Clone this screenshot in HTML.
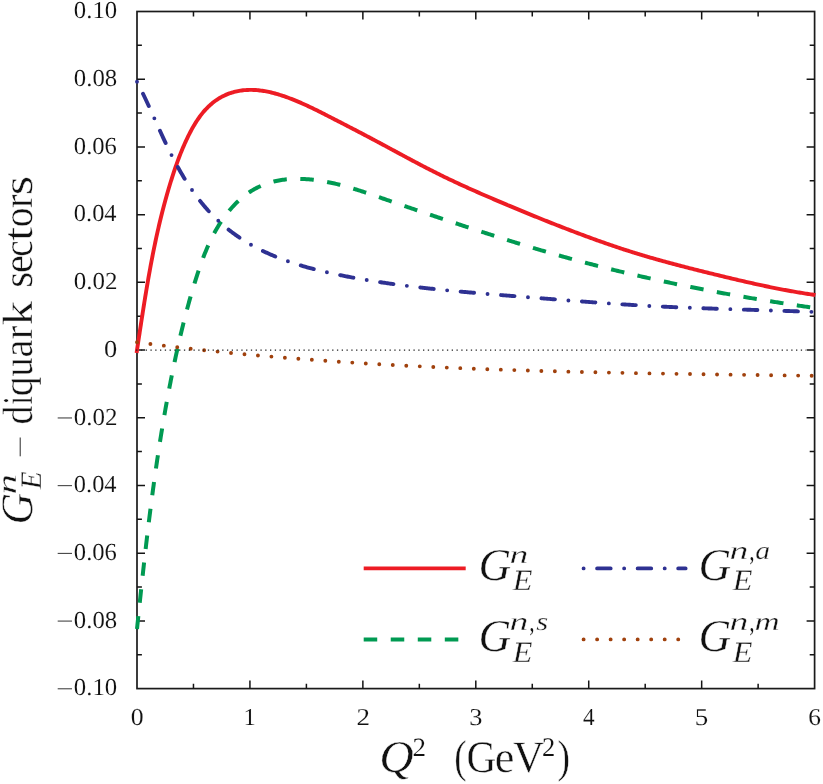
<!DOCTYPE html>
<html><head><meta charset="utf-8"><title>G_E^n diquark sectors</title>
<style>
html,body{margin:0;padding:0;background:#fff;}
svg{display:block;}
text{font-family:"Liberation Serif",serif;fill:#111;stroke:#fff;stroke-width:0.45px;text-rendering:geometricPrecision;}
text.sm{stroke-width:0.12px;}
text.sc{stroke-width:0.3px;}
</style></head>
<body>
<svg width="823" height="784" viewBox="0 0 823 784">
<rect width="823" height="784" fill="#fff"/>
<g id="axes">
<rect x="137.0" y="11.5" width="677.60" height="677.10" fill="none" stroke="#1a1a1a" stroke-width="1.7"/>
<path d="M137.0,45.36h4.9 M814.6,45.36h-4.9 M137.0,79.21h8.0 M814.6,79.21h-8.0 M137.0,113.07h4.9 M814.6,113.07h-4.9 M137.0,146.92h8.0 M814.6,146.92h-8.0 M137.0,180.78h4.9 M814.6,180.78h-4.9 M137.0,214.63h8.0 M814.6,214.63h-8.0 M137.0,248.48h4.9 M814.6,248.48h-4.9 M137.0,282.34h8.0 M814.6,282.34h-8.0 M137.0,316.20h4.9 M814.6,316.20h-4.9 M137.0,350.05h8.0 M814.6,350.05h-8.0 M137.0,383.91h4.9 M814.6,383.91h-4.9 M137.0,417.76h8.0 M814.6,417.76h-8.0 M137.0,451.62h4.9 M814.6,451.62h-4.9 M137.0,485.47h8.0 M814.6,485.47h-8.0 M137.0,519.33h4.9 M814.6,519.33h-4.9 M137.0,553.18h8.0 M814.6,553.18h-8.0 M137.0,587.04h4.9 M814.6,587.04h-4.9 M137.0,620.89h8.0 M814.6,620.89h-8.0 M137.0,654.75h4.9 M814.6,654.75h-4.9 M193.47,11.5v4.9 M193.47,688.6v-4.9 M249.93,11.5v8.0 M249.93,688.6v-8.0 M306.40,11.5v4.9 M306.40,688.6v-4.9 M362.87,11.5v8.0 M362.87,688.6v-8.0 M419.33,11.5v4.9 M419.33,688.6v-4.9 M475.80,11.5v8.0 M475.80,688.6v-8.0 M532.27,11.5v4.9 M532.27,688.6v-4.9 M588.73,11.5v8.0 M588.73,688.6v-8.0 M645.20,11.5v4.9 M645.20,688.6v-4.9 M701.67,11.5v8.0 M701.67,688.6v-8.0 M758.13,11.5v4.9 M758.13,688.6v-4.9" fill="none" stroke="#141414" stroke-width="1.5"/>
</g>
<g id="curves">
<path d="M136.62,353.00 L137.00,350.00 L137.20,348.72 L137.39,347.44 L137.59,346.16 L137.78,344.88 L137.98,343.59 L138.17,342.31 L138.36,341.03 L138.56,339.75 L138.75,338.47 L138.95,337.18 L139.14,335.90 L139.34,334.62 L139.54,333.34 L139.73,332.05 L139.93,330.77 L140.12,329.49 L140.32,328.21 L140.51,326.92 L140.71,325.64 L140.91,324.36 L141.11,323.07 L141.30,321.79 L141.50,320.51 L141.70,319.22 L141.90,317.94 L142.10,316.66 L142.30,315.37 L142.50,314.09 L142.70,312.81 L142.90,311.52 L143.10,310.24 L143.30,308.96 L143.51,307.68 L143.71,306.39 L143.91,305.11 L144.12,303.83 L144.32,302.55 L144.53,301.26 L144.74,299.98 L144.95,298.70 L145.15,297.42 L145.36,296.13 L145.57,294.85 L145.79,293.57 L146.00,292.29 L146.21,291.01 L146.43,289.73 L146.64,288.44 L146.86,287.16 L147.07,285.88 L147.29,284.60 L147.51,283.32 L147.73,282.04 L147.95,280.76 L148.17,279.48 L148.40,278.20 L148.62,276.92 L148.85,275.65 L149.08,274.37 L149.30,273.09 L149.53,271.81 L149.77,270.53 L150.00,269.26 L150.23,267.98 L150.47,266.70 L150.70,265.43 L150.94,264.15 L151.18,262.87 L151.42,261.60 L151.66,260.32 L151.91,259.05 L152.15,257.77 L152.40,256.50 L152.65,255.23 L152.90,253.95 L153.15,252.68 L153.40,251.41 L153.66,250.13 L153.92,248.86 L154.17,247.59 L154.43,246.32 L154.70,245.05 L154.96,243.78 L155.23,242.51 L155.49,241.24 L155.76,239.97 L156.03,238.71 L156.31,237.44 L156.58,236.17 L156.86,234.91 L157.14,233.64 L157.42,232.37 L157.70,231.11 L157.99,229.84 L158.28,228.58 L158.56,227.32 L158.86,226.06 L159.15,224.79 L159.45,223.53 L159.74,222.27 L160.04,221.01 L160.35,219.75 L160.65,218.49 L160.96,217.23 L161.27,215.97 L161.58,214.72 L161.89,213.46 L162.21,212.21 L162.53,210.95 L162.85,209.70 L163.18,208.44 L163.50,207.19 L163.83,205.94 L164.16,204.68 L164.50,203.43 L164.83,202.18 L165.17,200.93 L165.51,199.68 L165.86,198.44 L166.21,197.19 L166.56,195.94 L166.91,194.70 L167.26,193.45 L167.62,192.21 L167.98,190.96 L168.35,189.72 L168.71,188.48 L169.08,187.24 L169.46,186.00 L169.83,184.76 L170.21,183.52 L170.59,182.28 L170.97,181.04 L171.36,179.81 L171.75,178.57 L172.14,177.34 L172.54,176.10 L172.94,174.87 L173.34,173.64 L173.75,172.41 L174.16,171.18 L174.57,169.95 L174.99,168.72 L175.41,167.49 L175.84,166.27 L176.26,165.05 L176.70,163.82 L177.14,162.60 L177.58,161.38 L178.03,160.16 L178.48,158.95 L178.94,157.73 L179.40,156.52 L179.87,155.31 L180.34,154.10 L180.82,152.89 L181.31,151.68 L181.80,150.48 L182.30,149.27 L182.80,148.07 L183.31,146.88 L183.83,145.68 L184.35,144.48 L184.88,143.29 L185.42,142.10 L185.97,140.92 L186.52,139.73 L187.08,138.55 L187.65,137.37 L188.22,136.19 L188.80,135.01 L189.40,133.84 L190.00,132.67 L190.61,131.51 L191.22,130.35 L191.85,129.19 L192.49,128.04 L193.14,126.90 L193.80,125.76 L194.47,124.64 L195.15,123.51 L195.84,122.40 L196.55,121.30 L197.27,120.21 L198.00,119.12 L198.75,118.05 L199.51,116.99 L200.28,115.94 L201.07,114.90 L201.87,113.88 L202.69,112.87 L203.52,111.87 L204.37,110.89 L205.24,109.93 L206.12,108.98 L207.01,108.05 L207.93,107.13 L208.85,106.23 L209.80,105.35 L210.75,104.50 L211.73,103.66 L212.72,102.84 L213.72,102.04 L214.74,101.27 L215.78,100.52 L216.83,99.79 L217.90,99.09 L218.98,98.41 L220.07,97.75 L221.18,97.12 L222.31,96.52 L223.44,95.94 L224.59,95.39 L225.76,94.86 L226.93,94.36 L228.11,93.89 L229.31,93.45 L230.52,93.03 L231.73,92.64 L232.96,92.27 L234.19,91.94 L235.43,91.63 L236.68,91.34 L237.93,91.08 L239.20,90.85 L240.46,90.64 L241.73,90.46 L243.01,90.31 L244.29,90.17 L245.57,90.07 L246.85,89.99 L248.14,89.93 L249.42,89.90 L250.71,89.89 L252.00,89.90 L253.29,89.94 L254.58,89.99 L255.87,90.07 L257.16,90.17 L258.45,90.30 L259.73,90.44 L261.02,90.60 L262.31,90.78 L263.60,90.98 L264.88,91.19 L266.17,91.43 L267.45,91.68 L268.74,91.94 L270.02,92.22 L271.29,92.52 L272.57,92.83 L273.85,93.16 L275.12,93.50 L276.39,93.85 L277.65,94.22 L278.92,94.60 L280.18,94.99 L281.44,95.39 L282.69,95.80 L283.94,96.22 L285.19,96.65 L286.43,97.09 L287.67,97.54 L288.90,97.99 L290.13,98.46 L291.35,98.93 L292.57,99.40 L293.79,99.89 L295.00,100.38 L296.21,100.87 L297.41,101.37 L298.61,101.88 L299.81,102.39 L301.00,102.91 L302.19,103.43 L303.37,103.96 L304.55,104.49 L305.73,105.03 L306.91,105.57 L308.08,106.12 L309.25,106.67 L310.42,107.22 L311.59,107.78 L312.75,108.34 L313.91,108.90 L315.07,109.47 L316.23,110.04 L317.39,110.61 L318.54,111.19 L319.69,111.77 L320.85,112.35 L322.00,112.93 L323.15,113.51 L324.30,114.09 L325.45,114.68 L326.60,115.27 L327.75,115.86 L328.90,116.44 L330.05,117.03 L331.19,117.62 L332.34,118.21 L333.49,118.80 L334.64,119.40 L335.79,119.99 L336.94,120.58 L338.09,121.17 L339.24,121.76 L340.39,122.35 L341.55,122.95 L342.70,123.54 L343.85,124.13 L345.00,124.73 L346.15,125.32 L347.30,125.92 L348.45,126.51 L349.60,127.11 L350.75,127.71 L351.90,128.30 L353.05,128.90 L354.21,129.50 L355.36,130.10 L356.51,130.70 L357.66,131.30 L358.81,131.90 L359.96,132.50 L361.11,133.10 L362.26,133.70 L363.41,134.31 L364.56,134.91 L365.70,135.52 L366.85,136.12 L368.00,136.73 L369.15,137.33 L370.30,137.94 L371.44,138.55 L372.59,139.16 L373.74,139.77 L374.88,140.38 L376.03,140.99 L377.17,141.61 L378.32,142.22 L379.46,142.83 L380.61,143.45 L381.75,144.06 L382.90,144.68 L384.04,145.29 L385.18,145.91 L386.33,146.52 L387.47,147.14 L388.61,147.76 L389.76,148.37 L390.90,148.99 L392.04,149.61 L393.19,150.23 L394.33,150.84 L395.47,151.46 L396.62,152.08 L397.76,152.69 L398.90,153.31 L400.05,153.92 L401.19,154.54 L402.33,155.15 L403.48,155.77 L404.62,156.38 L405.77,157.00 L406.91,157.61 L408.06,158.22 L409.20,158.83 L410.35,159.45 L411.50,160.06 L412.64,160.67 L413.79,161.27 L414.94,161.88 L416.08,162.49 L417.23,163.09 L418.38,163.70 L419.53,164.30 L420.68,164.90 L421.83,165.51 L422.98,166.11 L424.13,166.70 L425.29,167.30 L426.44,167.90 L427.59,168.49 L428.75,169.08 L429.90,169.67 L431.06,170.26 L432.21,170.85 L433.37,171.44 L434.53,172.02 L435.69,172.61 L436.85,173.19 L438.01,173.77 L439.17,174.34 L440.33,174.92 L441.50,175.49 L442.66,176.06 L443.83,176.63 L444.99,177.20 L446.16,177.76 L447.33,178.33 L448.50,178.89 L449.67,179.45 L450.84,180.00 L452.01,180.56 L453.18,181.11 L454.36,181.66 L455.53,182.22 L456.71,182.76 L457.88,183.31 L459.06,183.86 L460.24,184.40 L461.41,184.94 L462.59,185.48 L463.77,186.02 L464.95,186.56 L466.13,187.10 L467.32,187.63 L468.50,188.16 L469.68,188.70 L470.86,189.23 L472.05,189.76 L473.23,190.28 L474.42,190.81 L475.60,191.34 L476.79,191.86 L477.98,192.38 L479.17,192.90 L480.35,193.43 L481.54,193.95 L482.73,194.46 L483.92,194.98 L485.11,195.50 L486.30,196.01 L487.49,196.53 L488.68,197.04 L489.88,197.56 L491.07,198.07 L492.26,198.58 L493.45,199.09 L494.65,199.60 L495.84,200.11 L497.03,200.62 L498.23,201.13 L499.42,201.63 L500.62,202.14 L501.81,202.65 L503.01,203.15 L504.20,203.66 L505.40,204.16 L506.59,204.66 L507.79,205.17 L508.99,205.67 L510.18,206.17 L511.38,206.67 L512.58,207.17 L513.78,207.67 L514.97,208.17 L516.17,208.67 L517.37,209.17 L518.57,209.67 L519.77,210.17 L520.97,210.66 L522.17,211.16 L523.37,211.65 L524.57,212.15 L525.77,212.64 L526.97,213.13 L528.17,213.63 L529.37,214.12 L530.57,214.61 L531.78,215.10 L532.98,215.59 L534.18,216.08 L535.38,216.57 L536.59,217.05 L537.79,217.54 L538.99,218.02 L540.20,218.51 L541.40,218.99 L542.61,219.48 L543.81,219.96 L545.02,220.44 L546.22,220.92 L547.43,221.40 L548.63,221.88 L549.84,222.36 L551.05,222.84 L552.25,223.32 L553.46,223.79 L554.67,224.27 L555.88,224.74 L557.08,225.22 L558.29,225.69 L559.50,226.16 L560.71,226.63 L561.92,227.10 L563.13,227.57 L564.34,228.04 L565.55,228.51 L566.76,228.97 L567.97,229.44 L569.19,229.90 L570.40,230.37 L571.61,230.83 L572.82,231.29 L574.04,231.75 L575.25,232.21 L576.46,232.67 L577.68,233.13 L578.89,233.59 L580.11,234.04 L581.32,234.50 L582.54,234.95 L583.75,235.40 L584.97,235.85 L586.19,236.30 L587.41,236.75 L588.62,237.20 L589.84,237.65 L591.06,238.09 L592.28,238.53 L593.50,238.98 L594.72,239.42 L595.94,239.86 L597.16,240.30 L598.38,240.73 L599.60,241.17 L600.83,241.60 L602.05,242.03 L603.27,242.46 L604.50,242.89 L605.72,243.32 L606.95,243.75 L608.17,244.17 L609.40,244.59 L610.63,245.01 L611.85,245.43 L613.08,245.85 L614.31,246.27 L615.54,246.68 L616.77,247.09 L618.00,247.51 L619.23,247.91 L620.46,248.32 L621.69,248.73 L622.92,249.13 L624.16,249.53 L625.39,249.93 L626.63,250.33 L627.86,250.72 L629.10,251.12 L630.33,251.51 L631.57,251.90 L632.81,252.29 L634.05,252.67 L635.29,253.06 L636.53,253.44 L637.77,253.82 L639.01,254.20 L640.25,254.57 L641.49,254.95 L642.73,255.32 L643.98,255.69 L645.22,256.06 L646.46,256.43 L647.71,256.79 L648.95,257.15 L650.20,257.52 L651.45,257.88 L652.69,258.23 L653.94,258.59 L655.19,258.95 L656.44,259.30 L657.69,259.65 L658.94,260.00 L660.19,260.35 L661.44,260.70 L662.69,261.04 L663.94,261.39 L665.19,261.73 L666.44,262.07 L667.70,262.42 L668.95,262.75 L670.20,263.09 L671.46,263.43 L672.71,263.76 L673.97,264.10 L675.22,264.43 L676.48,264.76 L677.73,265.09 L678.99,265.42 L680.24,265.75 L681.50,266.08 L682.76,266.40 L684.01,266.73 L685.27,267.05 L686.53,267.38 L687.79,267.70 L689.04,268.02 L690.30,268.34 L691.56,268.66 L692.82,268.98 L694.08,269.30 L695.34,269.61 L696.60,269.93 L697.86,270.24 L699.12,270.56 L700.38,270.87 L701.64,271.19 L702.90,271.50 L704.16,271.81 L705.42,272.12 L706.68,272.43 L707.94,272.74 L709.20,273.05 L710.46,273.36 L711.72,273.67 L712.98,273.98 L714.24,274.28 L715.50,274.59 L716.77,274.90 L718.03,275.21 L719.29,275.51 L720.55,275.82 L721.81,276.12 L723.07,276.43 L724.33,276.73 L725.60,277.03 L726.86,277.34 L728.12,277.64 L729.38,277.94 L730.64,278.24 L731.91,278.54 L733.17,278.84 L734.43,279.14 L735.69,279.44 L736.96,279.73 L738.22,280.03 L739.48,280.32 L740.75,280.62 L742.01,280.91 L743.27,281.20 L744.54,281.49 L745.80,281.78 L747.06,282.07 L748.33,282.36 L749.59,282.65 L750.86,282.93 L752.12,283.21 L753.39,283.50 L754.66,283.78 L755.92,284.06 L757.19,284.34 L758.46,284.61 L759.72,284.89 L760.99,285.16 L762.26,285.44 L763.53,285.71 L764.79,285.98 L766.06,286.24 L767.33,286.51 L768.60,286.77 L769.87,287.04 L771.14,287.30 L772.41,287.56 L773.68,287.81 L774.95,288.07 L776.22,288.32 L777.50,288.58 L778.77,288.83 L780.04,289.07 L781.31,289.32 L782.59,289.56 L783.86,289.80 L785.14,290.04 L786.41,290.28 L787.69,290.52 L788.96,290.75 L790.24,290.98 L791.52,291.21 L792.80,291.44 L794.07,291.66 L795.35,291.88 L796.63,292.10 L797.91,292.32 L799.19,292.53 L800.47,292.74 L801.75,292.95 L803.04,293.16 L804.32,293.36 L805.60,293.57 L806.88,293.76 L808.17,293.96 L809.45,294.15 L810.74,294.34 L812.03,294.53 L813.31,294.72 L814.60,294.90 L815.40,295.10" fill="none" stroke="#ed1c24" stroke-width="3.9" stroke-linejoin="round"/>
<path d="M137.00,629.00 L137.13,627.70 L137.27,626.41 L137.40,625.11 L137.54,623.81 L137.67,622.51 L137.81,621.22 L137.94,619.92 L138.08,618.62 L138.21,617.32 L138.35,616.03 L138.48,614.73 L138.62,613.43 L138.75,612.13 L138.89,610.83 L139.03,609.54 L139.16,608.24 L139.30,606.94 L139.44,605.64 L139.57,604.34 L139.71,603.05 L139.85,601.75 L139.98,600.45 L140.12,599.15 L140.26,597.85 L140.40,596.55 L140.54,595.25 L140.67,593.96 L140.81,592.66 L140.95,591.36 L141.09,590.06 L141.23,588.76 L141.37,587.46 L141.51,586.16 L141.65,584.86 L141.79,583.56 L141.93,582.27 L142.07,580.97 L142.21,579.67 L142.35,578.37 L142.49,577.07 L142.64,575.77 L142.78,574.47 L142.92,573.17 L143.06,571.87 L143.21,570.57 L143.35,569.27 L143.50,567.98 L143.64,566.68 L143.78,565.38 L143.93,564.08 L144.07,562.78 L144.22,561.48 L144.37,560.18 L144.51,558.88 L144.66,557.58 L144.81,556.28 L144.95,554.98 L145.10,553.68 L145.25,552.39 L145.40,551.09 L145.55,549.79 L145.70,548.49 L145.85,547.19 L146.00,545.89 L146.15,544.59 L146.30,543.29 L146.45,541.99 L146.60,540.69 L146.76,539.40 L146.91,538.10 L147.06,536.80 L147.22,535.50 L147.37,534.20 L147.53,532.90 L147.68,531.60 L147.84,530.30 L147.99,529.01 L148.15,527.71 L148.31,526.41 L148.47,525.11 L148.63,523.81 L148.78,522.51 L148.94,521.22 L149.10,519.92 L149.26,518.62 L149.43,517.32 L149.59,516.02 L149.75,514.73 L149.91,513.43 L150.08,512.13 L150.24,510.83 L150.41,509.53 L150.57,508.24 L150.74,506.94 L150.90,505.64 L151.07,504.34 L151.24,503.05 L151.41,501.75 L151.57,500.45 L151.74,499.16 L151.91,497.86 L152.09,496.56 L152.26,495.27 L152.43,493.97 L152.60,492.67 L152.78,491.38 L152.95,490.08 L153.12,488.78 L153.30,487.49 L153.48,486.19 L153.65,484.90 L153.83,483.60 L154.01,482.30 L154.19,481.01 L154.37,479.71 L154.55,478.42 L154.73,477.12 L154.91,475.83 L155.09,474.53 L155.28,473.24 L155.46,471.94 L155.65,470.65 L155.83,469.36 L156.02,468.06 L156.20,466.77 L156.39,465.47 L156.58,464.18 L156.77,462.89 L156.96,461.59 L157.15,460.30 L157.34,459.01 L157.54,457.71 L157.73,456.42 L157.93,455.13 L158.12,453.83 L158.32,452.54 L158.51,451.25 L158.71,449.96 L158.91,448.66 L159.11,447.37 L159.31,446.08 L159.51,444.79 L159.71,443.50 L159.92,442.21 L160.12,440.92 L160.32,439.63 L160.53,438.33 L160.74,437.04 L160.94,435.75 L161.15,434.46 L161.36,433.17 L161.57,431.88 L161.78,430.59 L162.00,429.30 L162.21,428.02 L162.42,426.73 L162.64,425.44 L162.85,424.15 L163.07,422.86 L163.29,421.57 L163.51,420.28 L163.73,419.00 L163.95,417.71 L164.17,416.42 L164.39,415.13 L164.62,413.85 L164.84,412.56 L165.07,411.27 L165.29,409.99 L165.52,408.70 L165.75,407.42 L165.98,406.13 L166.21,404.84 L166.44,403.56 L166.68,402.27 L166.91,400.99 L167.14,399.70 L167.38,398.42 L167.62,397.14 L167.86,395.85 L168.10,394.57 L168.34,393.29 L168.58,392.00 L168.82,390.72 L169.07,389.44 L169.31,388.15 L169.56,386.87 L169.80,385.59 L170.05,384.31 L170.30,383.03 L170.55,381.75 L170.80,380.46 L171.06,379.18 L171.31,377.90 L171.57,376.62 L171.82,375.34 L172.08,374.06 L172.34,372.78 L172.60,371.51 L172.86,370.23 L173.12,368.95 L173.39,367.67 L173.65,366.39 L173.92,365.11 L174.19,363.84 L174.46,362.56 L174.73,361.28 L175.00,360.01 L175.27,358.73 L175.54,357.45 L175.82,356.18 L176.09,354.90 L176.37,353.63 L176.65,352.35 L176.93,351.08 L177.21,349.81 L177.49,348.53 L177.78,347.26 L178.06,345.98 L178.35,344.71 L178.64,343.44 L178.93,342.17 L179.22,340.90 L179.51,339.62 L179.81,338.35 L180.10,337.08 L180.40,335.81 L180.70,334.54 L181.00,333.27 L181.31,332.00 L181.61,330.73 L181.92,329.46 L182.22,328.20 L182.53,326.93 L182.85,325.66 L183.16,324.39 L183.47,323.13 L183.79,321.86 L184.11,320.60 L184.43,319.33 L184.75,318.06 L185.08,316.80 L185.40,315.54 L185.73,314.27 L186.06,313.01 L186.40,311.75 L186.73,310.48 L187.07,309.22 L187.41,307.96 L187.75,306.70 L188.09,305.44 L188.44,304.18 L188.79,302.92 L189.14,301.66 L189.49,300.40 L189.84,299.14 L190.20,297.89 L190.56,296.63 L190.92,295.37 L191.28,294.12 L191.65,292.86 L192.02,291.61 L192.39,290.35 L192.76,289.10 L193.14,287.84 L193.52,286.59 L193.90,285.34 L194.28,284.09 L194.67,282.83 L195.06,281.58 L195.45,280.33 L195.85,279.08 L196.24,277.83 L196.64,276.59 L197.05,275.34 L197.45,274.09 L197.86,272.84 L198.27,271.60 L198.69,270.35 L199.11,269.11 L199.53,267.87 L199.96,266.63 L200.39,265.39 L200.83,264.15 L201.27,262.91 L201.71,261.68 L202.16,260.45 L202.62,259.22 L203.08,257.99 L203.55,256.76 L204.02,255.54 L204.50,254.32 L204.99,253.10 L205.48,251.88 L205.98,250.67 L206.48,249.46 L206.99,248.25 L207.51,247.05 L208.04,245.85 L208.57,244.65 L209.12,243.46 L209.67,242.27 L210.23,241.08 L210.79,239.90 L211.37,238.72 L211.95,237.54 L212.55,236.37 L213.15,235.21 L213.76,234.04 L214.38,232.88 L215.01,231.73 L215.65,230.58 L216.30,229.44 L216.96,228.30 L217.64,227.16 L218.32,226.04 L219.01,224.91 L219.72,223.79 L220.43,222.68 L221.16,221.58 L221.89,220.48 L222.64,219.39 L223.40,218.30 L224.16,217.23 L224.94,216.16 L225.73,215.10 L226.53,214.05 L227.35,213.01 L228.17,211.98 L229.00,210.96 L229.85,209.95 L230.70,208.95 L231.57,207.96 L232.44,206.98 L233.33,206.02 L234.23,205.06 L235.14,204.12 L236.06,203.19 L236.99,202.28 L237.94,201.38 L238.89,200.49 L239.85,199.62 L240.83,198.76 L241.82,197.91 L242.81,197.08 L243.82,196.27 L244.84,195.48 L245.87,194.70 L246.91,193.93 L247.97,193.19 L249.03,192.46 L250.11,191.75 L251.19,191.05 L252.29,190.38 L253.40,189.72 L254.52,189.09 L255.65,188.47 L256.79,187.87 L257.94,187.29 L259.10,186.74 L260.28,186.20 L261.46,185.68 L262.65,185.18 L263.85,184.70 L265.06,184.24 L266.28,183.80 L267.50,183.38 L268.73,182.98 L269.97,182.59 L271.22,182.23 L272.47,181.89 L273.73,181.56 L274.99,181.26 L276.27,180.97 L277.54,180.70 L278.82,180.45 L280.11,180.22 L281.39,180.01 L282.69,179.82 L283.98,179.65 L285.28,179.49 L286.58,179.36 L287.89,179.24 L289.20,179.13 L290.51,179.05 L291.82,178.97 L293.13,178.92 L294.44,178.88 L295.76,178.85 L297.08,178.84 L298.39,178.85 L299.71,178.86 L301.02,178.90 L302.34,178.94 L303.65,179.00 L304.96,179.07 L306.28,179.15 L307.58,179.24 L308.89,179.35 L310.20,179.46 L311.50,179.59 L312.80,179.73 L314.11,179.88 L315.40,180.04 L316.70,180.21 L318.00,180.39 L319.29,180.58 L320.58,180.78 L321.87,180.99 L323.16,181.20 L324.45,181.43 L325.73,181.67 L327.01,181.91 L328.30,182.17 L329.58,182.43 L330.86,182.70 L332.13,182.97 L333.41,183.26 L334.69,183.55 L335.96,183.85 L337.23,184.16 L338.50,184.47 L339.77,184.80 L341.04,185.12 L342.31,185.46 L343.57,185.80 L344.84,186.14 L346.10,186.50 L347.36,186.85 L348.62,187.22 L349.88,187.58 L351.14,187.96 L352.40,188.33 L353.65,188.72 L354.91,189.10 L356.16,189.49 L357.42,189.89 L358.67,190.29 L359.92,190.69 L361.17,191.10 L362.42,191.50 L363.67,191.92 L364.92,192.33 L366.17,192.75 L367.42,193.17 L368.66,193.59 L369.91,194.01 L371.15,194.44 L372.40,194.87 L373.64,195.30 L374.88,195.73 L376.12,196.16 L377.37,196.59 L378.61,197.02 L379.85,197.45 L381.09,197.89 L382.33,198.32 L383.57,198.75 L384.80,199.19 L386.04,199.62 L387.28,200.05 L388.52,200.48 L389.75,200.91 L390.99,201.34 L392.23,201.77 L393.46,202.20 L394.70,202.63 L395.94,203.05 L397.17,203.48 L398.41,203.91 L399.64,204.33 L400.88,204.76 L402.11,205.18 L403.35,205.61 L404.58,206.03 L405.81,206.45 L407.05,206.88 L408.28,207.30 L409.51,207.72 L410.75,208.14 L411.98,208.56 L413.22,208.98 L414.45,209.40 L415.68,209.82 L416.91,210.24 L418.15,210.66 L419.38,211.08 L420.61,211.50 L421.85,211.91 L423.08,212.33 L424.31,212.75 L425.55,213.16 L426.78,213.58 L428.01,214.00 L429.25,214.41 L430.48,214.83 L431.72,215.24 L432.95,215.66 L434.19,216.08 L435.42,216.49 L436.65,216.91 L437.89,217.32 L439.12,217.73 L440.36,218.15 L441.60,218.56 L442.83,218.98 L444.07,219.39 L445.30,219.80 L446.54,220.22 L447.78,220.63 L449.01,221.04 L450.25,221.46 L451.49,221.87 L452.73,222.28 L453.96,222.69 L455.20,223.10 L456.44,223.51 L457.68,223.93 L458.92,224.34 L460.15,224.75 L461.39,225.16 L462.63,225.57 L463.87,225.98 L465.11,226.38 L466.35,226.79 L467.59,227.20 L468.83,227.61 L470.07,228.02 L471.31,228.42 L472.56,228.83 L473.80,229.24 L475.04,229.64 L476.28,230.05 L477.52,230.45 L478.76,230.86 L480.01,231.26 L481.25,231.66 L482.49,232.07 L483.74,232.47 L484.98,232.87 L486.22,233.27 L487.47,233.67 L488.71,234.07 L489.96,234.47 L491.20,234.87 L492.45,235.27 L493.69,235.67 L494.94,236.07 L496.18,236.47 L497.43,236.86 L498.67,237.26 L499.92,237.65 L501.17,238.05 L502.41,238.44 L503.66,238.84 L504.91,239.23 L506.15,239.62 L507.40,240.01 L508.65,240.40 L509.90,240.79 L511.15,241.18 L512.39,241.57 L513.64,241.96 L514.89,242.35 L516.14,242.73 L517.39,243.12 L518.64,243.51 L519.89,243.89 L521.14,244.27 L522.39,244.66 L523.64,245.04 L524.89,245.42 L526.15,245.80 L527.40,246.18 L528.65,246.56 L529.90,246.94 L531.15,247.32 L532.41,247.69 L533.66,248.07 L534.91,248.44 L536.17,248.82 L537.42,249.19 L538.67,249.56 L539.93,249.94 L541.18,250.31 L542.44,250.68 L543.69,251.04 L544.95,251.41 L546.20,251.78 L547.46,252.15 L548.71,252.51 L549.97,252.87 L551.23,253.24 L552.48,253.60 L553.74,253.96 L555.00,254.32 L556.25,254.68 L557.51,255.04 L558.77,255.40 L560.03,255.75 L561.29,256.11 L562.55,256.46 L563.80,256.81 L565.06,257.17 L566.32,257.52 L567.58,257.87 L568.84,258.22 L570.10,258.56 L571.36,258.91 L572.63,259.26 L573.89,259.60 L575.15,259.94 L576.41,260.29 L577.67,260.63 L578.93,260.97 L580.20,261.31 L581.46,261.65 L582.72,261.98 L583.98,262.32 L585.25,262.65 L586.51,262.99 L587.78,263.32 L589.04,263.65 L590.30,263.98 L591.57,264.31 L592.83,264.64 L594.10,264.97 L595.36,265.30 L596.63,265.62 L597.90,265.95 L599.16,266.27 L600.43,266.60 L601.70,266.92 L602.96,267.24 L604.23,267.56 L605.50,267.88 L606.76,268.19 L608.03,268.51 L609.30,268.83 L610.57,269.14 L611.84,269.46 L613.11,269.77 L614.37,270.08 L615.64,270.39 L616.91,270.70 L618.18,271.01 L619.45,271.32 L620.72,271.62 L621.99,271.93 L623.26,272.24 L624.53,272.54 L625.81,272.84 L627.08,273.14 L628.35,273.45 L629.62,273.75 L630.89,274.04 L632.16,274.34 L633.44,274.64 L634.71,274.94 L635.98,275.23 L637.25,275.53 L638.53,275.82 L639.80,276.11 L641.07,276.40 L642.35,276.69 L643.62,276.98 L644.90,277.27 L646.17,277.56 L647.45,277.85 L648.72,278.13 L650.00,278.42 L651.27,278.70 L652.55,278.98 L653.82,279.27 L655.10,279.55 L656.37,279.83 L657.65,280.11 L658.93,280.39 L660.20,280.66 L661.48,280.94 L662.76,281.21 L664.04,281.49 L665.31,281.76 L666.59,282.04 L667.87,282.31 L669.15,282.58 L670.43,282.85 L671.70,283.12 L672.98,283.39 L674.26,283.66 L675.54,283.92 L676.82,284.19 L678.10,284.45 L679.38,284.72 L680.66,284.98 L681.94,285.24 L683.22,285.50 L684.50,285.76 L685.78,286.02 L687.06,286.28 L688.34,286.54 L689.62,286.80 L690.90,287.05 L692.18,287.31 L693.47,287.56 L694.75,287.82 L696.03,288.07 L697.31,288.32 L698.59,288.57 L699.88,288.82 L701.16,289.07 L702.44,289.32 L703.73,289.57 L705.01,289.81 L706.29,290.06 L707.58,290.30 L708.86,290.55 L710.14,290.79 L711.43,291.03 L712.71,291.27 L713.99,291.52 L715.28,291.76 L716.56,291.99 L717.85,292.23 L719.13,292.47 L720.42,292.71 L721.70,292.94 L722.99,293.18 L724.28,293.41 L725.56,293.65 L726.85,293.88 L728.13,294.11 L729.42,294.34 L730.71,294.57 L731.99,294.80 L733.28,295.03 L734.57,295.26 L735.85,295.48 L737.14,295.71 L738.43,295.93 L739.71,296.16 L741.00,296.38 L742.29,296.61 L743.58,296.83 L744.86,297.05 L746.15,297.27 L747.44,297.49 L748.73,297.71 L750.02,297.93 L751.31,298.15 L752.60,298.36 L753.88,298.58 L755.17,298.79 L756.46,299.01 L757.75,299.22 L759.04,299.43 L760.33,299.65 L761.62,299.86 L762.91,300.07 L764.20,300.28 L765.49,300.49 L766.78,300.70 L768.07,300.90 L769.36,301.11 L770.65,301.32 L771.94,301.52 L773.23,301.73 L774.52,301.93 L775.82,302.13 L777.11,302.34 L778.40,302.54 L779.69,302.74 L780.98,302.94 L782.27,303.14 L783.56,303.34 L784.86,303.54 L786.15,303.73 L787.44,303.93 L788.73,304.13 L790.03,304.32 L791.32,304.52 L792.61,304.71 L793.90,304.90 L795.20,305.10 L796.49,305.29 L797.78,305.48 L799.07,305.67 L800.37,305.86 L801.66,306.05 L802.95,306.24 L804.25,306.42 L805.54,306.61 L806.84,306.80 L808.13,306.98 L809.42,307.17 L810.72,307.35 L812.01,307.54 L813.31,307.72 L814.60,307.90" fill="none" stroke="#009a52" stroke-width="4" stroke-dasharray="13.514000000000001 13.514000000000001" stroke-dashoffset="0.6" stroke-linejoin="round"/>
<path d="M137.00,81.70 L137.50,82.68 L138.01,83.65 L138.51,84.63 L139.00,85.61 L139.50,86.60 L139.99,87.58 L140.48,88.57 L140.97,89.55 L141.45,90.54 L141.94,91.53 L142.42,92.52 L142.90,93.52 L143.38,94.51 L143.85,95.51 L144.33,96.50 L144.80,97.50 L145.27,98.50 L145.74,99.50 L146.21,100.50 L146.68,101.50 L147.14,102.50 L147.61,103.51 L148.07,104.51 L148.53,105.51 L149.00,106.52 L149.46,107.53 L149.92,108.53 L150.38,109.54 L150.84,110.55 L151.29,111.56 L151.75,112.57 L152.21,113.58 L152.66,114.59 L153.12,115.60 L153.58,116.61 L154.03,117.62 L154.49,118.63 L154.94,119.64 L155.40,120.65 L155.85,121.66 L156.31,122.67 L156.76,123.69 L157.22,124.70 L157.68,125.71 L158.13,126.72 L158.59,127.73 L159.05,128.74 L159.51,129.75 L159.97,130.77 L160.43,131.78 L160.89,132.79 L161.35,133.80 L161.82,134.81 L162.28,135.81 L162.75,136.82 L163.21,137.83 L163.68,138.84 L164.15,139.84 L164.62,140.85 L165.09,141.85 L165.57,142.86 L166.04,143.86 L166.52,144.87 L167.00,145.87 L167.48,146.87 L167.96,147.87 L168.45,148.87 L168.93,149.86 L169.42,150.86 L169.91,151.86 L170.41,152.85 L170.90,153.84 L171.40,154.84 L171.90,155.83 L172.40,156.82 L172.91,157.80 L173.42,158.79 L173.93,159.78 L174.44,160.76 L174.96,161.74 L175.48,162.72 L176.00,163.70 L176.53,164.68 L177.06,165.65 L177.59,166.63 L178.13,167.60 L178.67,168.57 L179.21,169.53 L179.76,170.50 L180.31,171.46 L180.86,172.43 L181.42,173.39 L181.98,174.34 L182.55,175.30 L183.12,176.25 L183.69,177.20 L184.27,178.15 L184.85,179.10 L185.43,180.04 L186.02,180.98 L186.62,181.92 L187.21,182.86 L187.81,183.79 L188.42,184.72 L189.03,185.65 L189.64,186.57 L190.26,187.50 L190.88,188.41 L191.51,189.33 L192.14,190.24 L192.77,191.15 L193.41,192.06 L194.05,192.96 L194.70,193.86 L195.35,194.75 L196.01,195.65 L196.67,196.53 L197.34,197.42 L198.01,198.30 L198.68,199.18 L199.36,200.05 L200.04,200.92 L200.73,201.78 L201.43,202.65 L202.12,203.50 L202.83,204.36 L203.53,205.21 L204.24,206.05 L204.96,206.89 L205.68,207.73 L206.41,208.56 L207.14,209.38 L207.87,210.21 L208.62,211.02 L209.36,211.84 L210.11,212.65 L210.87,213.45 L211.63,214.25 L212.39,215.04 L213.16,215.83 L213.94,216.61 L214.72,217.39 L215.51,218.16 L216.30,218.93 L217.09,219.69 L217.89,220.45 L218.70,221.20 L219.51,221.95 L220.33,222.69 L221.15,223.42 L221.98,224.15 L222.81,224.88 L223.65,225.60 L224.49,226.31 L225.34,227.02 L226.19,227.72 L227.04,228.41 L227.91,229.10 L228.77,229.79 L229.64,230.47 L230.51,231.14 L231.39,231.81 L232.28,232.47 L233.16,233.13 L234.05,233.78 L234.95,234.43 L235.85,235.07 L236.75,235.71 L237.66,236.33 L238.57,236.96 L239.49,237.58 L240.40,238.19 L241.33,238.80 L242.25,239.40 L243.18,239.99 L244.11,240.58 L245.05,241.17 L245.99,241.74 L246.93,242.32 L247.88,242.88 L248.83,243.45 L249.78,244.00 L250.74,244.55 L251.70,245.10 L252.66,245.64 L253.62,246.17 L254.59,246.70 L255.56,247.22 L256.53,247.73 L257.51,248.25 L258.49,248.75 L259.47,249.25 L260.45,249.75 L261.44,250.24 L262.43,250.72 L263.42,251.20 L264.42,251.68 L265.41,252.15 L266.41,252.61 L267.41,253.07 L268.42,253.52 L269.42,253.97 L270.43,254.42 L271.45,254.86 L272.46,255.29 L273.48,255.72 L274.49,256.15 L275.51,256.57 L276.54,256.99 L277.56,257.40 L278.59,257.80 L279.62,258.21 L280.65,258.61 L281.68,259.00 L282.72,259.39 L283.75,259.78 L284.79,260.16 L285.83,260.53 L286.88,260.91 L287.92,261.28 L288.97,261.64 L290.01,262.00 L291.06,262.36 L292.11,262.71 L293.17,263.06 L294.22,263.41 L295.28,263.75 L296.33,264.08 L297.39,264.42 L298.45,264.75 L299.51,265.07 L300.58,265.40 L301.64,265.72 L302.71,266.03 L303.78,266.35 L304.84,266.65 L305.91,266.96 L306.98,267.26 L308.06,267.56 L309.13,267.86 L310.20,268.15 L311.28,268.44 L312.36,268.73 L313.43,269.01 L314.51,269.29 L315.59,269.57 L316.67,269.84 L317.75,270.11 L318.83,270.38 L319.92,270.65 L321.00,270.91 L322.08,271.17 L323.17,271.43 L324.25,271.69 L325.34,271.94 L326.43,272.19 L327.51,272.44 L328.60,272.68 L329.69,272.93 L330.78,273.17 L331.87,273.40 L332.96,273.64 L334.05,273.87 L335.14,274.11 L336.23,274.34 L337.32,274.56 L338.41,274.79 L339.50,275.01 L340.59,275.23 L341.68,275.45 L342.77,275.67 L343.87,275.89 L344.96,276.10 L346.05,276.31 L347.14,276.52 L348.23,276.73 L349.32,276.94 L350.41,277.15 L351.51,277.35 L352.60,277.55 L353.69,277.75 L354.78,277.95 L355.87,278.15 L356.96,278.35 L358.05,278.54 L359.15,278.74 L360.24,278.93 L361.33,279.12 L362.42,279.31 L363.51,279.49 L364.60,279.68 L365.69,279.86 L366.78,280.05 L367.87,280.23 L368.97,280.41 L370.06,280.59 L371.15,280.76 L372.24,280.94 L373.33,281.11 L374.42,281.28 L375.51,281.46 L376.60,281.63 L377.70,281.80 L378.79,281.96 L379.88,282.13 L380.97,282.29 L382.06,282.46 L383.15,282.62 L384.25,282.78 L385.34,282.94 L386.43,283.10 L387.52,283.26 L388.61,283.41 L389.71,283.57 L390.80,283.72 L391.89,283.88 L392.98,284.03 L394.08,284.18 L395.17,284.33 L396.26,284.47 L397.35,284.62 L398.45,284.77 L399.54,284.91 L400.63,285.06 L401.73,285.20 L402.82,285.34 L403.91,285.48 L405.01,285.62 L406.10,285.76 L407.19,285.90 L408.29,286.03 L409.38,286.17 L410.48,286.30 L411.57,286.44 L412.67,286.57 L413.76,286.70 L414.86,286.83 L415.95,286.96 L417.05,287.09 L418.14,287.22 L419.24,287.35 L420.34,287.47 L421.43,287.60 L422.53,287.72 L423.62,287.85 L424.72,287.97 L425.82,288.09 L426.92,288.22 L428.01,288.34 L429.11,288.46 L430.21,288.58 L431.31,288.69 L432.40,288.81 L433.50,288.93 L434.60,289.05 L435.70,289.16 L436.80,289.28 L437.90,289.39 L439.00,289.50 L440.10,289.62 L441.20,289.73 L442.30,289.84 L443.40,289.95 L444.50,290.06 L445.60,290.17 L446.70,290.28 L447.80,290.39 L448.90,290.50 L450.00,290.60 L451.10,290.71 L452.20,290.82 L453.31,290.92 L454.41,291.03 L455.51,291.13 L456.61,291.24 L457.71,291.34 L458.82,291.44 L459.92,291.55 L461.02,291.65 L462.12,291.75 L463.23,291.85 L464.33,291.95 L465.43,292.05 L466.53,292.15 L467.64,292.25 L468.74,292.35 L469.84,292.45 L470.95,292.54 L472.05,292.64 L473.16,292.74 L474.26,292.83 L475.36,292.93 L476.47,293.03 L477.57,293.12 L478.67,293.22 L479.78,293.31 L480.88,293.40 L481.99,293.50 L483.09,293.59 L484.20,293.69 L485.30,293.78 L486.41,293.87 L487.51,293.96 L488.61,294.06 L489.72,294.15 L490.82,294.24 L491.93,294.33 L493.03,294.42 L494.14,294.51 L495.24,294.60 L496.35,294.69 L497.45,294.78 L498.56,294.87 L499.66,294.96 L500.77,295.05 L501.87,295.14 L502.98,295.23 L504.08,295.32 L505.19,295.41 L506.29,295.50 L507.40,295.59 L508.50,295.68 L509.61,295.77 L510.71,295.85 L511.82,295.94 L512.92,296.03 L514.03,296.12 L515.13,296.21 L516.24,296.29 L517.34,296.38 L518.45,296.47 L519.55,296.56 L520.66,296.65 L521.76,296.73 L522.87,296.82 L523.97,296.91 L525.08,297.00 L526.18,297.09 L527.29,297.17 L528.39,297.26 L529.50,297.35 L530.60,297.44 L531.70,297.53 L532.81,297.61 L533.91,297.70 L535.02,297.79 L536.12,297.88 L537.23,297.97 L538.33,298.06 L539.43,298.14 L540.54,298.23 L541.64,298.32 L542.74,298.41 L543.85,298.50 L544.95,298.58 L546.06,298.67 L547.16,298.76 L548.26,298.85 L549.37,298.93 L550.47,299.02 L551.57,299.11 L552.68,299.20 L553.78,299.29 L554.89,299.37 L555.99,299.46 L557.09,299.55 L558.20,299.63 L559.30,299.72 L560.40,299.81 L561.51,299.89 L562.61,299.98 L563.71,300.07 L564.82,300.15 L565.92,300.24 L567.02,300.33 L568.13,300.41 L569.23,300.50 L570.33,300.58 L571.43,300.67 L572.54,300.75 L573.64,300.84 L574.74,300.92 L575.85,301.01 L576.95,301.09 L578.05,301.18 L579.16,301.26 L580.26,301.35 L581.36,301.43 L582.47,301.51 L583.57,301.60 L584.67,301.68 L585.77,301.76 L586.88,301.84 L587.98,301.93 L589.08,302.01 L590.19,302.09 L591.29,302.17 L592.39,302.25 L593.50,302.33 L594.60,302.41 L595.70,302.49 L596.81,302.57 L597.91,302.65 L599.01,302.73 L600.11,302.81 L601.22,302.89 L602.32,302.97 L603.42,303.05 L604.53,303.13 L605.63,303.20 L606.73,303.28 L607.84,303.36 L608.94,303.43 L610.04,303.51 L611.15,303.58 L612.25,303.66 L613.35,303.73 L614.46,303.81 L615.56,303.88 L616.66,303.96 L617.77,304.03 L618.87,304.10 L619.97,304.18 L621.08,304.25 L622.18,304.32 L623.28,304.39 L624.39,304.46 L625.49,304.53 L626.59,304.60 L627.70,304.67 L628.80,304.74 L629.91,304.81 L631.01,304.88 L632.11,304.94 L633.22,305.01 L634.32,305.08 L635.43,305.14 L636.53,305.21 L637.63,305.28 L638.74,305.34 L639.84,305.40 L640.95,305.47 L642.05,305.53 L643.15,305.59 L644.26,305.66 L645.36,305.72 L646.47,305.78 L647.57,305.84 L648.68,305.90 L649.78,305.96 L650.89,306.02 L651.99,306.07 L653.10,306.13 L654.20,306.19 L655.31,306.25 L656.41,306.30 L657.52,306.36 L658.62,306.41 L659.73,306.47 L660.83,306.52 L661.94,306.57 L663.04,306.63 L664.15,306.68 L665.25,306.73 L666.36,306.78 L667.46,306.83 L668.57,306.88 L669.67,306.93 L670.78,306.98 L671.89,307.03 L672.99,307.08 L674.10,307.13 L675.20,307.18 L676.31,307.23 L677.41,307.27 L678.52,307.32 L679.63,307.37 L680.73,307.41 L681.84,307.46 L682.94,307.50 L684.05,307.55 L685.16,307.59 L686.26,307.64 L687.37,307.68 L688.47,307.72 L689.58,307.77 L690.69,307.81 L691.79,307.85 L692.90,307.89 L694.01,307.94 L695.11,307.98 L696.22,308.02 L697.32,308.06 L698.43,308.10 L699.54,308.14 L700.64,308.18 L701.75,308.22 L702.86,308.26 L703.96,308.30 L705.07,308.34 L706.18,308.38 L707.28,308.41 L708.39,308.45 L709.50,308.49 L710.60,308.53 L711.71,308.57 L712.82,308.60 L713.92,308.64 L715.03,308.68 L716.14,308.71 L717.24,308.75 L718.35,308.79 L719.46,308.82 L720.56,308.86 L721.67,308.90 L722.78,308.93 L723.88,308.97 L724.99,309.00 L726.10,309.04 L727.21,309.07 L728.31,309.11 L729.42,309.14 L730.53,309.18 L731.63,309.21 L732.74,309.25 L733.85,309.28 L734.95,309.32 L736.06,309.35 L737.17,309.39 L738.27,309.42 L739.38,309.45 L740.49,309.49 L741.59,309.52 L742.70,309.56 L743.81,309.59 L744.91,309.63 L746.02,309.66 L747.13,309.69 L748.24,309.73 L749.34,309.76 L750.45,309.80 L751.56,309.83 L752.66,309.86 L753.77,309.90 L754.88,309.93 L755.98,309.97 L757.09,310.00 L758.20,310.04 L759.30,310.07 L760.41,310.10 L761.52,310.14 L762.62,310.17 L763.73,310.21 L764.84,310.24 L765.94,310.28 L767.05,310.31 L768.16,310.35 L769.26,310.38 L770.37,310.42 L771.47,310.45 L772.58,310.49 L773.69,310.52 L774.79,310.56 L775.90,310.60 L777.01,310.63 L778.11,310.67 L779.22,310.70 L780.33,310.74 L781.43,310.78 L782.54,310.82 L783.64,310.85 L784.75,310.89 L785.86,310.93 L786.96,310.97 L788.07,311.00 L789.17,311.04 L790.28,311.08 L791.39,311.12 L792.49,311.16 L793.60,311.20 L794.70,311.24 L795.81,311.28 L796.91,311.32 L798.02,311.36 L799.13,311.40 L800.23,311.44 L801.34,311.48 L802.44,311.52 L803.55,311.56 L804.65,311.61 L805.76,311.65 L806.86,311.69 L807.97,311.73 L809.07,311.78 L810.18,311.82 L811.28,311.87 L812.39,311.91 L813.50,311.95 L814.60,312.00" fill="none" stroke="#2e3192" stroke-width="3.9" stroke-linecap="round" stroke-dasharray="0 13.518 13.518 13.518" stroke-linejoin="round"/>
<path d="M137.00,342.30 L138.12,342.45 L139.25,342.59 L140.37,342.74 L141.50,342.88 L142.62,343.03 L143.75,343.17 L144.87,343.31 L146.00,343.45 L147.12,343.60 L148.25,343.74 L149.37,343.88 L150.50,344.02 L151.62,344.16 L152.75,344.30 L153.88,344.44 L155.00,344.58 L156.13,344.72 L157.25,344.85 L158.38,344.99 L159.50,345.13 L160.63,345.26 L161.75,345.40 L162.88,345.54 L164.01,345.67 L165.13,345.81 L166.26,345.94 L167.38,346.07 L168.51,346.21 L169.63,346.34 L170.76,346.47 L171.89,346.60 L173.01,346.74 L174.14,346.87 L175.26,347.00 L176.39,347.13 L177.52,347.26 L178.64,347.39 L179.77,347.52 L180.90,347.64 L182.02,347.77 L183.15,347.90 L184.27,348.03 L185.40,348.15 L186.53,348.28 L187.65,348.41 L188.78,348.53 L189.91,348.66 L191.03,348.78 L192.16,348.91 L193.29,349.03 L194.41,349.15 L195.54,349.28 L196.67,349.40 L197.79,349.52 L198.92,349.64 L200.05,349.76 L201.17,349.88 L202.30,350.00 L203.43,350.12 L204.55,350.24 L205.68,350.36 L206.81,350.48 L207.94,350.60 L209.06,350.72 L210.19,350.83 L211.32,350.95 L212.44,351.07 L213.57,351.18 L214.70,351.30 L215.83,351.42 L216.95,351.53 L218.08,351.64 L219.21,351.76 L220.34,351.87 L221.46,351.99 L222.59,352.10 L223.72,352.21 L224.85,352.32 L225.97,352.43 L227.10,352.55 L228.23,352.66 L229.36,352.77 L230.48,352.88 L231.61,352.99 L232.74,353.10 L233.87,353.21 L235.00,353.31 L236.12,353.42 L237.25,353.53 L238.38,353.64 L239.51,353.74 L240.63,353.85 L241.76,353.96 L242.89,354.06 L244.02,354.17 L245.15,354.27 L246.28,354.38 L247.40,354.48 L248.53,354.59 L249.66,354.69 L250.79,354.79 L251.92,354.89 L253.04,355.00 L254.17,355.10 L255.30,355.20 L256.43,355.30 L257.56,355.40 L258.69,355.50 L259.82,355.60 L260.94,355.70 L262.07,355.80 L263.20,355.90 L264.33,356.00 L265.46,356.10 L266.59,356.19 L267.72,356.29 L268.84,356.39 L269.97,356.49 L271.10,356.58 L272.23,356.68 L273.36,356.77 L274.49,356.87 L275.62,356.96 L276.75,357.06 L277.88,357.15 L279.01,357.25 L280.13,357.34 L281.26,357.43 L282.39,357.52 L283.52,357.62 L284.65,357.71 L285.78,357.80 L286.91,357.89 L288.04,357.98 L289.17,358.07 L290.30,358.16 L291.43,358.25 L292.56,358.34 L293.68,358.43 L294.81,358.52 L295.94,358.61 L297.07,358.70 L298.20,358.78 L299.33,358.87 L300.46,358.96 L301.59,359.04 L302.72,359.13 L303.85,359.22 L304.98,359.30 L306.11,359.39 L307.24,359.47 L308.37,359.56 L309.50,359.64 L310.63,359.72 L311.76,359.81 L312.89,359.89 L314.02,359.97 L315.15,360.06 L316.28,360.14 L317.41,360.22 L318.54,360.30 L319.67,360.38 L320.80,360.46 L321.93,360.54 L323.06,360.62 L324.19,360.70 L325.32,360.78 L326.45,360.86 L327.58,360.94 L328.71,361.02 L329.84,361.10 L330.97,361.18 L332.10,361.25 L333.23,361.33 L334.36,361.41 L335.49,361.49 L336.62,361.56 L337.75,361.64 L338.88,361.71 L340.01,361.79 L341.14,361.86 L342.27,361.94 L343.40,362.01 L344.53,362.09 L345.66,362.16 L346.79,362.23 L347.92,362.31 L349.06,362.38 L350.19,362.45 L351.32,362.52 L352.45,362.60 L353.58,362.67 L354.71,362.74 L355.84,362.81 L356.97,362.88 L358.10,362.95 L359.23,363.02 L360.36,363.09 L361.49,363.16 L362.62,363.23 L363.76,363.30 L364.89,363.37 L366.02,363.44 L367.15,363.50 L368.28,363.57 L369.41,363.64 L370.54,363.71 L371.67,363.77 L372.80,363.84 L373.93,363.91 L375.06,363.97 L376.20,364.04 L377.33,364.10 L378.46,364.17 L379.59,364.23 L380.72,364.30 L381.85,364.36 L382.98,364.42 L384.11,364.49 L385.25,364.55 L386.38,364.61 L387.51,364.68 L388.64,364.74 L389.77,364.80 L390.90,364.86 L392.03,364.93 L393.16,364.99 L394.30,365.05 L395.43,365.11 L396.56,365.17 L397.69,365.23 L398.82,365.29 L399.95,365.35 L401.09,365.41 L402.22,365.47 L403.35,365.53 L404.48,365.58 L405.61,365.64 L406.74,365.70 L407.87,365.76 L409.01,365.82 L410.14,365.87 L411.27,365.93 L412.40,365.99 L413.53,366.04 L414.66,366.10 L415.80,366.16 L416.93,366.21 L418.06,366.27 L419.19,366.32 L420.32,366.38 L421.46,366.43 L422.59,366.49 L423.72,366.54 L424.85,366.59 L425.98,366.65 L427.12,366.70 L428.25,366.76 L429.38,366.81 L430.51,366.86 L431.64,366.91 L432.78,366.97 L433.91,367.02 L435.04,367.07 L436.17,367.12 L437.30,367.17 L438.44,367.22 L439.57,367.27 L440.70,367.32 L441.83,367.37 L442.96,367.42 L444.10,367.47 L445.23,367.52 L446.36,367.57 L447.49,367.62 L448.62,367.67 L449.76,367.72 L450.89,367.77 L452.02,367.81 L453.15,367.86 L454.29,367.91 L455.42,367.96 L456.55,368.00 L457.68,368.05 L458.82,368.10 L459.95,368.14 L461.08,368.19 L462.21,368.24 L463.35,368.28 L464.48,368.33 L465.61,368.37 L466.74,368.42 L467.87,368.46 L469.01,368.51 L470.14,368.55 L471.27,368.60 L472.40,368.64 L473.54,368.68 L474.67,368.73 L475.80,368.77 L476.94,368.82 L478.07,368.86 L479.20,368.90 L480.33,368.94 L481.47,368.99 L482.60,369.03 L483.73,369.07 L484.86,369.11 L486.00,369.15 L487.13,369.19 L488.26,369.23 L489.39,369.28 L490.53,369.32 L491.66,369.36 L492.79,369.40 L493.93,369.44 L495.06,369.48 L496.19,369.52 L497.32,369.56 L498.46,369.59 L499.59,369.63 L500.72,369.67 L501.85,369.71 L502.99,369.75 L504.12,369.79 L505.25,369.83 L506.39,369.86 L507.52,369.90 L508.65,369.94 L509.78,369.98 L510.92,370.01 L512.05,370.05 L513.18,370.09 L514.32,370.12 L515.45,370.16 L516.58,370.20 L517.72,370.23 L518.85,370.27 L519.98,370.30 L521.11,370.34 L522.25,370.37 L523.38,370.41 L524.51,370.44 L525.65,370.48 L526.78,370.51 L527.91,370.55 L529.05,370.58 L530.18,370.62 L531.31,370.65 L532.44,370.68 L533.58,370.72 L534.71,370.75 L535.84,370.78 L536.98,370.82 L538.11,370.85 L539.24,370.88 L540.38,370.91 L541.51,370.95 L542.64,370.98 L543.78,371.01 L544.91,371.04 L546.04,371.07 L547.17,371.10 L548.31,371.14 L549.44,371.17 L550.57,371.20 L551.71,371.23 L552.84,371.26 L553.97,371.29 L555.11,371.32 L556.24,371.35 L557.37,371.38 L558.51,371.41 L559.64,371.44 L560.77,371.47 L561.91,371.50 L563.04,371.53 L564.17,371.56 L565.31,371.59 L566.44,371.62 L567.57,371.64 L568.71,371.67 L569.84,371.70 L570.97,371.73 L572.11,371.76 L573.24,371.78 L574.37,371.81 L575.51,371.84 L576.64,371.87 L577.77,371.90 L578.91,371.92 L580.04,371.95 L581.17,371.98 L582.31,372.00 L583.44,372.03 L584.57,372.06 L585.71,372.08 L586.84,372.11 L587.97,372.14 L589.11,372.16 L590.24,372.19 L591.37,372.21 L592.51,372.24 L593.64,372.26 L594.77,372.29 L595.91,372.31 L597.04,372.34 L598.17,372.37 L599.31,372.39 L600.44,372.41 L601.57,372.44 L602.71,372.46 L603.84,372.49 L604.97,372.51 L606.11,372.54 L607.24,372.56 L608.37,372.58 L609.51,372.61 L610.64,372.63 L611.77,372.66 L612.91,372.68 L614.04,372.70 L615.17,372.73 L616.31,372.75 L617.44,372.77 L618.57,372.79 L619.71,372.82 L620.84,372.84 L621.97,372.86 L623.11,372.89 L624.24,372.91 L625.38,372.93 L626.51,372.95 L627.64,372.97 L628.78,373.00 L629.91,373.02 L631.04,373.04 L632.18,373.06 L633.31,373.08 L634.44,373.10 L635.58,373.13 L636.71,373.15 L637.84,373.17 L638.98,373.19 L640.11,373.21 L641.24,373.23 L642.38,373.25 L643.51,373.27 L644.64,373.29 L645.78,373.31 L646.91,373.33 L648.04,373.35 L649.18,373.37 L650.31,373.39 L651.44,373.41 L652.58,373.44 L653.71,373.45 L654.84,373.47 L655.98,373.49 L657.11,373.51 L658.24,373.53 L659.38,373.55 L660.51,373.57 L661.64,373.59 L662.78,373.61 L663.91,373.63 L665.05,373.65 L666.18,373.67 L667.31,373.69 L668.45,373.71 L669.58,373.73 L670.71,373.74 L671.85,373.76 L672.98,373.78 L674.11,373.80 L675.25,373.82 L676.38,373.84 L677.51,373.86 L678.65,373.87 L679.78,373.89 L680.91,373.91 L682.05,373.93 L683.18,373.95 L684.31,373.96 L685.45,373.98 L686.58,374.00 L687.71,374.02 L688.85,374.04 L689.98,374.05 L691.11,374.07 L692.25,374.09 L693.38,374.11 L694.51,374.12 L695.65,374.14 L696.78,374.16 L697.91,374.18 L699.05,374.19 L700.18,374.21 L701.31,374.23 L702.45,374.25 L703.58,374.26 L704.71,374.28 L705.85,374.30 L706.98,374.31 L708.11,374.33 L709.25,374.35 L710.38,374.36 L711.51,374.38 L712.64,374.40 L713.78,374.41 L714.91,374.43 L716.04,374.45 L717.18,374.46 L718.31,374.48 L719.44,374.50 L720.58,374.51 L721.71,374.53 L722.84,374.55 L723.98,374.56 L725.11,374.58 L726.24,374.60 L727.38,374.61 L728.51,374.63 L729.64,374.64 L730.78,374.66 L731.91,374.68 L733.04,374.69 L734.17,374.71 L735.31,374.73 L736.44,374.74 L737.57,374.76 L738.71,374.77 L739.84,374.79 L740.97,374.81 L742.11,374.82 L743.24,374.84 L744.37,374.85 L745.51,374.87 L746.64,374.89 L747.77,374.90 L748.90,374.92 L750.04,374.93 L751.17,374.95 L752.30,374.97 L753.44,374.98 L754.57,375.00 L755.70,375.01 L756.84,375.03 L757.97,375.05 L759.10,375.06 L760.23,375.08 L761.37,375.09 L762.50,375.11 L763.63,375.13 L764.77,375.14 L765.90,375.16 L767.03,375.17 L768.16,375.19 L769.30,375.20 L770.43,375.22 L771.56,375.24 L772.70,375.25 L773.83,375.27 L774.96,375.28 L776.09,375.30 L777.23,375.32 L778.36,375.33 L779.49,375.35 L780.62,375.36 L781.76,375.38 L782.89,375.40 L784.02,375.41 L785.15,375.43 L786.29,375.44 L787.42,375.46 L788.55,375.48 L789.69,375.49 L790.82,375.51 L791.95,375.52 L793.08,375.54 L794.22,375.56 L795.35,375.57 L796.48,375.59 L797.61,375.61 L798.75,375.62 L799.88,375.64 L801.01,375.65 L802.14,375.67 L803.28,375.69 L804.41,375.70 L805.54,375.72 L806.67,375.74 L807.81,375.75 L808.94,375.77 L810.07,375.79 L811.20,375.80 L812.33,375.82 L813.47,375.84 L814.60,375.85" fill="none" stroke="#a0410d" stroke-width="3.9" stroke-linecap="round" stroke-dasharray="0 13.518"/>
<line x1="136.09" x2="806" y1="350.05" y2="350.05" stroke="#222" stroke-width="1.15" stroke-dasharray="1.3 3.482"/>
</g>
<g id="legend">
<line x1="363.7" x2="465.7" y1="568.4" y2="568.4" stroke="#ed1c24" stroke-width="3.9"/>
<line x1="363.7" x2="465.7" y1="639.4" y2="639.4" stroke="#009a52" stroke-width="4" stroke-dasharray="13.518 13.518"/>
<line x1="583.6" x2="685.6" y1="568.4" y2="568.4" stroke="#2e3192" stroke-width="3.9" stroke-linecap="round" stroke-dasharray="0 13.518 13.518 13.518"/>
<line x1="583.6" x2="685.6" y1="639.4" y2="639.4" stroke="#a0410d" stroke-width="3.9" stroke-linecap="round" stroke-dasharray="0 13.518"/>
</g>
<g id="labels" opacity="0.999">
<line x1="57.7" x2="72.0" y1="417.96" y2="417.96" stroke="#333" stroke-width="1.0"/>
<line x1="57.7" x2="72.0" y1="485.67" y2="485.67" stroke="#333" stroke-width="1.0"/>
<line x1="57.7" x2="72.0" y1="553.38" y2="553.38" stroke="#333" stroke-width="1.0"/>
<line x1="57.7" x2="72.0" y1="621.09" y2="621.09" stroke="#333" stroke-width="1.0"/>
<line x1="57.7" x2="72.0" y1="688.80" y2="688.80" stroke="#333" stroke-width="1.0"/>
<text transform="translate(73.81,18.26) scale(1.0142,1)" font-size="24.44" class="sm">0.10</text>
<text transform="translate(73.81,85.97) scale(1.0142,1)" font-size="24.44" class="sm">0.08</text>
<text transform="translate(73.81,153.68) scale(1.0081,1)" font-size="24.44" class="sm">0.06</text>
<text transform="translate(73.82,221.39) scale(0.9992,1)" font-size="24.44" class="sm">0.04</text>
<text transform="translate(73.80,289.10) scale(1.0233,1)" font-size="24.44" class="sm">0.02</text>
<text transform="translate(104.04,356.81) scale(1.0812,1)" font-size="24.44" class="sm">0</text>
<text transform="translate(73.80,424.52) scale(1.0233,1)" font-size="24.44" class="sm">0.02</text>
<text transform="translate(73.82,492.23) scale(0.9992,1)" font-size="24.44" class="sm">0.04</text>
<text transform="translate(73.81,559.94) scale(1.0081,1)" font-size="24.44" class="sm">0.06</text>
<text transform="translate(73.81,627.65) scale(1.0142,1)" font-size="24.44" class="sm">0.08</text>
<text transform="translate(73.81,695.36) scale(1.0142,1)" font-size="24.44" class="sm">0.10</text>
<text transform="translate(130.77,724.66) scale(1.0584,1)" font-size="24.30" class="sm">0</text>
<text transform="translate(243.62,724.66) scale(1.0113,1)" font-size="24.30" class="sm">1</text>
<text transform="translate(356.45,724.66) scale(1.1113,1)" font-size="24.30" class="sm">2</text>
<text transform="translate(469.28,724.66) scale(1.0842,1)" font-size="24.30" class="sm">3</text>
<text transform="translate(583.07,724.66) scale(0.9559,1)" font-size="24.30" class="sm">4</text>
<text transform="translate(694.85,724.66) scale(1.1113,1)" font-size="24.30" class="sm">5</text>
<text transform="translate(808.26,724.66) scale(1.0459,1)" font-size="24.30" class="sm">6</text>
<text transform="translate(379.18,771.95) scale(1.0511,1)" font-size="45.37" font-style="italic">Q</text>
<text transform="translate(412.39,756.00) scale(1.0183,1)" font-size="26.52" class="sm">2</text>
<text transform="translate(454.14,771.71) scale(0.8072,1)" font-size="45.67">(</text>
<text transform="translate(466.45,771.95) scale(0.9208,1)" font-size="44.78">G</text>
<text transform="translate(494.83,771.95) scale(0.9899,1)" font-size="44.78">e</text>
<text transform="translate(512.97,771.95) scale(0.9667,1)" font-size="44.78">V</text>
<text transform="translate(542.01,756.00) scale(0.9881,1)" font-size="26.82" class="sm">2</text>
<text transform="translate(557.47,771.71) scale(0.8254,1)" font-size="45.67">)</text>
<text transform="translate(478.51,579.65) scale(0.9978,1)" font-size="45.37" font-style="italic">G</text>
<text transform="translate(512.82,590.30) scale(1.0882,1)" font-size="29.62" font-style="italic" class="sc">E</text>
<text transform="translate(509.48,563.23) scale(1.4711,1)" font-size="25.59" font-style="italic" class="sc">n</text>
<text transform="translate(478.51,650.85) scale(0.9978,1)" font-size="45.37" font-style="italic">G</text>
<text transform="translate(512.82,661.50) scale(1.0882,1)" font-size="29.62" font-style="italic" class="sc">E</text>
<text transform="translate(509.48,630.43) scale(1.4711,1)" font-size="25.59" font-style="italic" class="sc">n</text>
<text transform="translate(529.34,631.11) scale(0.7468,1)" font-size="28.63" class="sm">,</text>
<text transform="translate(536.14,630.43) scale(1.2006,1)" font-size="25.59" font-style="italic" class="sc">s</text>
<text transform="translate(698.41,579.65) scale(0.9978,1)" font-size="45.37" font-style="italic">G</text>
<text transform="translate(732.72,590.30) scale(1.0882,1)" font-size="29.62" font-style="italic" class="sc">E</text>
<text transform="translate(729.38,559.23) scale(1.4711,1)" font-size="25.59" font-style="italic" class="sc">n</text>
<text transform="translate(749.24,559.91) scale(0.7468,1)" font-size="28.63" class="sm">,</text>
<text transform="translate(755.31,559.23) scale(1.1632,1)" font-size="25.59" font-style="italic" class="sc">a</text>
<text transform="translate(698.41,650.85) scale(0.9978,1)" font-size="45.37" font-style="italic">G</text>
<text transform="translate(732.72,661.50) scale(1.0882,1)" font-size="29.62" font-style="italic" class="sc">E</text>
<text transform="translate(729.38,630.43) scale(1.4711,1)" font-size="25.59" font-style="italic" class="sc">n</text>
<text transform="translate(749.24,631.11) scale(0.7468,1)" font-size="28.63" class="sm">,</text>
<text transform="translate(754.38,630.43) scale(1.3631,1)" font-size="25.59" font-style="italic" class="sc">m</text>
<g transform="translate(32.0,0) rotate(-90)">
<text transform="translate(-524.40,0.05) scale(0.9732,1)" font-size="44.93" font-style="italic">G</text>
<text transform="translate(-494.43,-16.07) scale(1.5230,1)" font-size="26.88" font-style="italic" class="sc">n</text>
<text transform="translate(-489.31,9.20) scale(0.9822,1)" font-size="29.62" font-style="italic" class="sc">E</text>
<text transform="translate(-424.62,-0.03) scale(0.8880,1)" font-size="42.57">d</text>
<text transform="translate(-404.40,-0.03) scale(0.7047,1)" font-size="42.57">i</text>
<text transform="translate(-396.28,-0.03) scale(0.9290,1)" font-size="42.57">q</text>
<text transform="translate(-376.47,-0.03) scale(0.8996,1)" font-size="42.57">u</text>
<text transform="translate(-357.52,-0.03) scale(0.9515,1)" font-size="42.57">a</text>
<text transform="translate(-339.21,-0.03) scale(0.9550,1)" font-size="42.57">r</text>
<text transform="translate(-325.27,-0.03) scale(1.1402,1)" font-size="42.57">k</text>
<text transform="translate(-287.74,-0.03) scale(0.9620,1)" font-size="42.57">s</text>
<text transform="translate(-273.11,-0.03) scale(0.9459,1)" font-size="42.57">e</text>
<text transform="translate(-256.87,-0.03) scale(0.8644,1)" font-size="42.57">c</text>
<text transform="translate(-241.01,-0.03) scale(1.2016,1)" font-size="42.57">t</text>
<text transform="translate(-227.18,-0.03) scale(0.9284,1)" font-size="42.57">o</text>
<text transform="translate(-208.11,-0.03) scale(0.9550,1)" font-size="42.57">r</text>
<text transform="translate(-195.19,-0.03) scale(1.1708,1)" font-size="42.57">s</text>
<line x1="-456.3" x2="-437.5" y1="-11.8" y2="-11.8" stroke="#333" stroke-width="1.05"/>
</g>
</g>
</svg>
</body></html>
